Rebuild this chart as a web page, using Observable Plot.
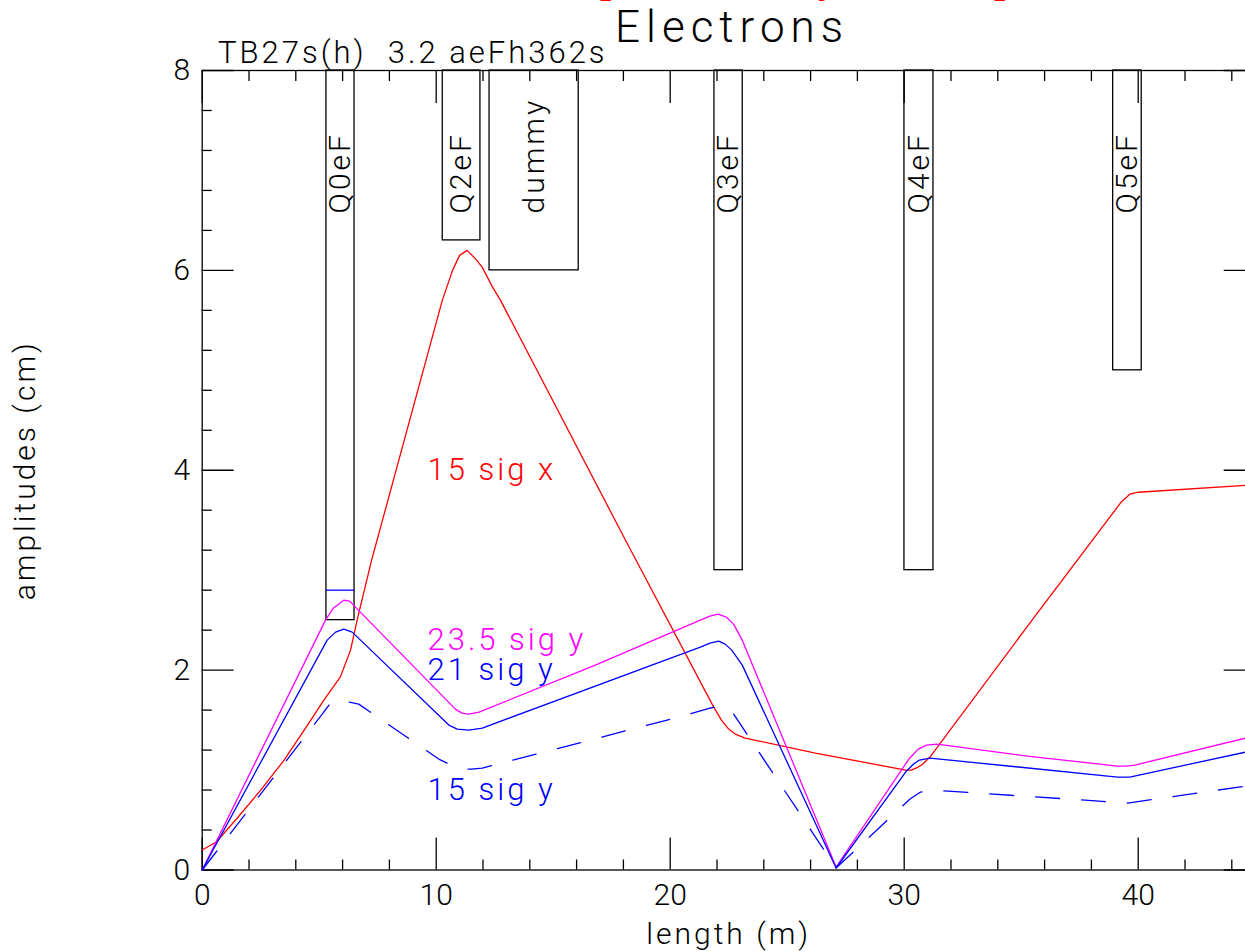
<!DOCTYPE html>
<html>
<head>
<meta charset="utf-8">
<script src="https://cdn.jsdelivr.net/npm/d3@7"></script>
<script src="https://cdn.jsdelivr.net/npm/@observablehq/plot@0.6"></script>
<style>
html, body { margin: 0; padding: 0; background: #fff; overflow: hidden; width: 1245px; height: 951px; }
#wrap { position: relative; width: 1245px; height: 951px; overflow: hidden; }
#wrap > svg { position: absolute; left: 0; top: 0; max-width: none !important; }
</style>
</head>
<body>
<div id="wrap"></div>
<script>
// ---------- data ----------
// 15 sigma x envelope (red)
const sigX15_s = [0, 0.6, 1.5, 2.5, 3.5, 4.5, 5.2, 5.9, 6.34, 6.62, 7.24, 10.26, 10.7, 11.0, 11.32, 11.7, 11.97, 12.39, 12.75, 18.09, 21.86, 22.19, 22.5, 22.78, 23.2, 26.2, 30.06, 30.3, 30.6, 30.8, 31.1, 35.56, 39.27, 39.64, 40.01, 44.6];
const sigX15_a = [0.20, 0.28, 0.52, 0.80, 1.10, 1.45, 1.70, 1.93, 2.20, 2.50, 3.10, 5.70, 6.00, 6.15, 6.20, 6.11, 6.03, 5.84, 5.70, 3.30, 1.63, 1.50, 1.41, 1.36, 1.32, 1.17, 1.00, 1.00, 1.03, 1.06, 1.13, 2.53, 3.68, 3.76, 3.78, 3.85];
// 23.5 sigma y envelope (magenta)
const sigY235_s = [0, 5.27, 5.6, 6.05, 6.3, 6.55, 10.82, 11.1, 11.4, 11.83, 16.8, 21.29, 21.7, 22.04, 22.4, 22.71, 23.08, 27.09, 30.2, 30.6, 30.95, 31.4, 35.26, 39.12, 39.5, 39.86, 44.6];
const sigY235_a = [0, 2.50, 2.62, 2.70, 2.69, 2.63, 1.61, 1.57, 1.56, 1.58, 2.05, 2.50, 2.54, 2.56, 2.53, 2.46, 2.30, 0.03, 1.11, 1.21, 1.25, 1.26, 1.14, 1.04, 1.04, 1.05, 1.32];
// 21 sigma y envelope (blue solid)
const sigY21_s = [0, 5.34, 5.7, 6.05, 6.41, 10.54, 10.9, 11.4, 11.97, 21.29, 21.7, 22.07, 22.35, 22.63, 23.08, 27.09, 30.06, 30.4, 30.65, 31.1, 39.12, 39.64, 44.6];
const sigY21_a = [0, 2.30, 2.38, 2.41, 2.38, 1.45, 1.41, 1.40, 1.42, 2.23, 2.27, 2.29, 2.26, 2.20, 2.05, 0.02, 0.98, 1.06, 1.10, 1.12, 0.93, 0.93, 1.18];
// 15 sigma y envelope (blue dashed)
const sigY15_s = [0, 5.13, 5.45, 5.77, 6.1, 6.69, 10.11, 10.82, 11.11, 11.5, 11.97, 19.87, 20.8, 21.7, 22.11, 22.4, 22.71, 27.09, 30.25, 30.7, 31.17, 39.56, 44.6];
const sigY15_a = [0, 1.56, 1.66, 1.70, 1.69, 1.66, 1.11, 1.03, 1.01, 1.01, 1.02, 1.50, 1.56, 1.62, 1.64, 1.61, 1.56, 0.02, 0.71, 0.78, 0.80, 0.67, 0.84];

// magnet elements (apertures hanging from the top)
const elemNames  = ["Q0eF", "Q2eF", "dummy", "Q3eF", "Q4eF", "Q5eF"];
const elemStart  = [5.31, 10.28, 12.28, 21.89, 30.01, 38.93];
const elemEnd    = [6.51, 11.89, 16.09, 23.10, 31.25, 40.15];
const elemBottom = [2.50, 6.30, 6.00, 3.00, 3.00, 5.00];
// vertical-plane aperture marker
const yAperElem  = ["Q0eF"];
const yAperValue = [2.80];

// series names
const seriesNames = ["15 sig x", "23.5 sig y", "21 sig y", "15 sig y"];

// ticks
const xMajor = [0, 10, 20, 30, 40];
const xMinor = [2, 4, 6, 8, 12, 14, 16, 18, 22, 24, 26, 28, 32, 34, 36, 38, 42, 44];
const yMajor = [0, 2, 4, 6, 8];
const yMinor = [0.4, 0.8, 1.2, 1.6, 2.4, 2.8, 3.2, 3.6, 4.4, 4.8, 5.2, 5.6, 6.4, 6.8, 7.2, 7.6];

const titleText = "Electrons";
const subtitleText = "TB27s(h)  3.2 aeFh362s";
const redTitleText = "Aperture Study for IR Optics";
const xLabel = "length (m)";
const yLabel = "amplitudes (cm)";

// ---------- build ----------
const RED = "#ff0000", MAG = "#ff00ff", BLUE = "#0000ff";
const rows = (s, a) => s.map((v, i) => ({s: v, a: a[i]}));
const elemIdx = elemNames.map((d, i) => i);
const FONT = "Roboto, 'DejaVu Sans', sans-serif";
const noText = () => "";

const chart = Plot.plot({
  width: 1300,
  height: 951,
  marginTop: 70,
  marginBottom: 81.5,
  marginLeft: 201.7,
  marginRight: 45.3,
  x: {domain: [0, 45]},
  y: {domain: [0, 8]},
  style: {fontFamily: FONT, fontWeight: 300, fontSize: "28px", background: "transparent", color: "black", overflow: "visible", maxWidth: "none"},
  marks: [
    // elements
    Plot.rect(elemIdx, {x1: i => elemStart[i], x2: i => elemEnd[i], y1: i => elemBottom[i], y2: 8, fill: "none", stroke: "black", strokeWidth: 1.3}),
    Plot.ruleY(yAperElem.map((d, i) => i), {
      y: i => yAperValue[i],
      x1: i => elemStart[elemNames.indexOf(yAperElem[i])],
      x2: i => elemEnd[elemNames.indexOf(yAperElem[i])],
      stroke: BLUE, strokeWidth: 1.3
    }),
    Plot.text(elemIdx, {x: i => (elemStart[i] + elemEnd[i]) / 2, y: 6.57, text: i => elemNames[i], rotate: -90, textAnchor: "start", fontSize: 30, fill: "black"}),
    // frame & ticks
    Plot.frame({stroke: "black", strokeWidth: 1.3}),
    Plot.axisX(xMajor, {anchor: "bottom", tickSize: -32, tickFormat: noText, label: null, strokeWidth: 1.3}),
    Plot.axisX(xMinor, {anchor: "bottom", tickSize: -10, tickFormat: noText, label: null, strokeWidth: 1.3}),
    Plot.axisX(xMajor, {anchor: "top", tickSize: -32, tickFormat: noText, label: null, strokeWidth: 1.3}),
    Plot.axisX(xMinor, {anchor: "top", tickSize: -10, tickFormat: noText, label: null, strokeWidth: 1.3}),
    Plot.axisY(yMajor, {anchor: "left", tickSize: -32, tickFormat: noText, label: null, strokeWidth: 1.3}),
    Plot.axisY(yMinor, {anchor: "left", tickSize: -10, tickFormat: noText, label: null, strokeWidth: 1.3}),
    Plot.axisY(yMajor, {anchor: "right", tickSize: -32, tickFormat: noText, label: null, strokeWidth: 1.3}),
    Plot.axisY(yMinor, {anchor: "right", tickSize: -10, tickFormat: noText, label: null, strokeWidth: 1.3}),
    // tick labels
    Plot.axisX(xMajor, {anchor: "bottom", tickSize: 0, tickPadding: 14, fontSize: 30, tickFormat: d => String(d), label: null}),
    Plot.axisY(yMajor, {anchor: "left", tickSize: 0, tickPadding: 12, fontSize: 30, tickFormat: d => String(d), label: null}),
    // axis titles
    Plot.text([xLabel], {frameAnchor: "bottom", dy: 64, textAnchor: "middle", lineAnchor: "middle", fontSize: 30, fill: "black"}),
    Plot.text([yLabel], {frameAnchor: "left", dx: -177, rotate: -90, textAnchor: "middle", lineAnchor: "middle", fontSize: 30, fill: "black"}),
    // envelopes
    Plot.line(rows(sigX15_s, sigX15_a), {x: "s", y: "a", stroke: RED, strokeWidth: 1.3}),
    Plot.line(rows(sigY235_s, sigY235_a), {x: "s", y: "a", stroke: MAG, strokeWidth: 1.3}),
    Plot.line(rows(sigY21_s, sigY21_a), {x: "s", y: "a", stroke: BLUE, strokeWidth: 1.3}),
    Plot.line(rows(sigY15_s, sigY15_a), {x: "s", y: "a", stroke: BLUE, strokeWidth: 1.3, strokeDasharray: "24,22"}),
    // series labels
    Plot.text([seriesNames[0]], {x: 9.63, y: 4.0, textAnchor: "start", fill: RED, fontSize: 31}),
    Plot.text([seriesNames[1]], {x: 9.63, y: 2.30, textAnchor: "start", fill: MAG, fontSize: 31}),
    Plot.text([seriesNames[2]], {x: 9.63, y: 2.005, textAnchor: "start", fill: BLUE, fontSize: 31}),
    Plot.text([seriesNames[3]], {x: 9.63, y: 0.795, textAnchor: "start", fill: BLUE, fontSize: 31})
  ]
});

chart.style.maxWidth = "none";
chart.setAttribute("width", 1300);
chart.setAttribute("height", 951);
// wider letter spacing, like the stroke font of the original
d3.select(chart).selectAll("g[aria-label='text'] text").style("letter-spacing", "3px");
const wrap = document.getElementById("wrap");
wrap.appendChild(chart);

// header texts above the plotting frame
const hdr = d3.select(wrap).append("svg")
  .attr("width", 1245).attr("height", 70)
  .style("overflow", "visible");
hdr.append("text")
  .attr("x", 571).attr("y", -8)
  .attr("font-family", "'Liberation Serif', serif")
  .attr("font-weight", "bold").attr("font-size", 40)
  .attr("fill", RED)
  .text(redTitleText);
hdr.append("text")
  .attr("x", 615).attr("y", 42)
  .attr("font-family", FONT).attr("font-weight", 300).attr("font-size", 44)
  .attr("fill", "black")
  .style("letter-spacing", "6px")
  .text(titleText);
hdr.append("text")
  .attr("x", 218).attr("y", 63)
  .attr("font-family", FONT).attr("font-weight", 300).attr("font-size", 31)
  .attr("fill", "black")
  .style("white-space", "pre")
  .style("letter-spacing", "3px")
  .text(subtitleText);
</script>
</body>
</html>
